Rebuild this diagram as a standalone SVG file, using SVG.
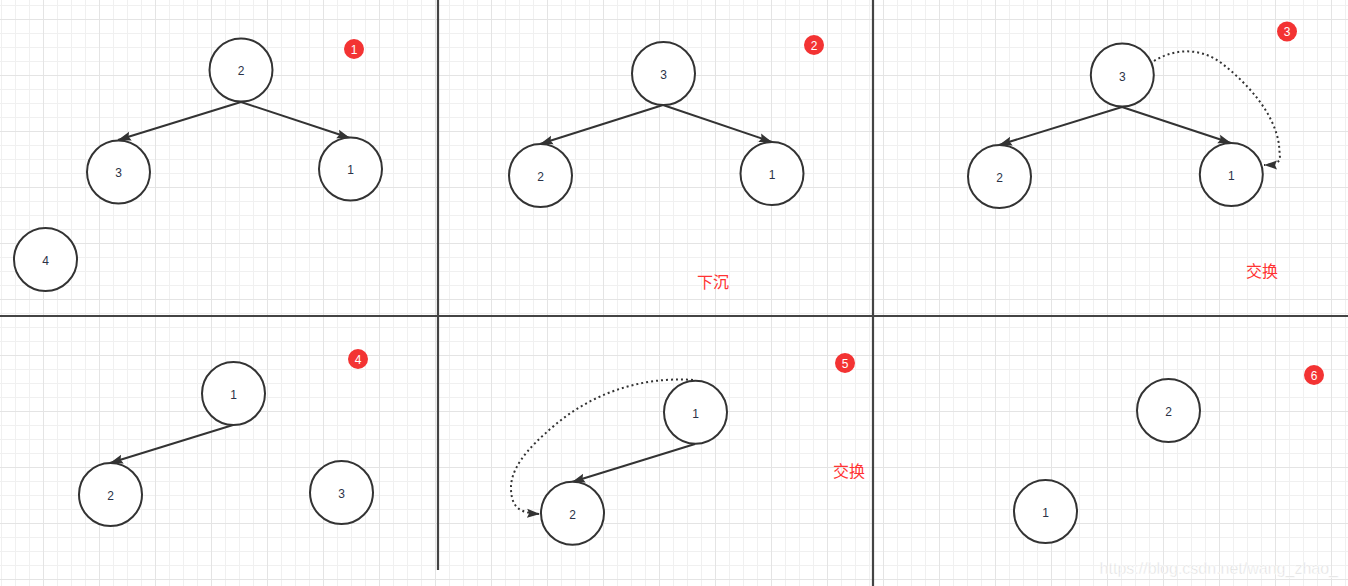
<svg xmlns="http://www.w3.org/2000/svg" width="1348" height="586" viewBox="0 0 1348 586">
<style>
.node circle{fill:#ffffff;stroke:#333333;stroke-width:2}
.node text{font-family:"Liberation Sans",Arial,sans-serif;font-size:12px;fill:#2a3247;text-anchor:middle;dominant-baseline:central}
.badge circle{fill:#f33333}
.badge text{font-family:"Liberation Sans",Arial,sans-serif;font-size:12px;fill:#ffffff;text-anchor:middle;dominant-baseline:central}
.edge{fill:none;stroke:#333333;stroke-width:2}
.dot{fill:none;stroke:#333333;stroke-width:2;stroke-dasharray:2 3}
.note{font-family:"Liberation Sans","Noto Sans CJK SC",sans-serif;font-size:16px;fill:#ff3333;text-anchor:middle;dominant-baseline:central}
.div{stroke:#444444;stroke-width:2.2}
</style>
<defs>
<pattern id="grid" x="1" y="5" width="56" height="56" patternUnits="userSpaceOnUse">
<path d="M0.5 0V56M14.5 0V56M28.5 0V56M0 0.5H56M28.5 0H56M0 28.5H56M0 42.5H56" stroke="#f0f0f0" stroke-width="1" fill="none"/>
<path d="M42.5 0V56M0 14.5H56" stroke="#e4e4e4" stroke-width="1" fill="none"/>
</pattern>
<marker id="arr" markerUnits="userSpaceOnUse" markerWidth="16" markerHeight="12" refX="13" refY="5" orient="auto">
<path d="M0 0.5L13 5L0 9.5L2 5Z" fill="#333333"/>
</marker>
</defs>
<rect width="1348" height="586" fill="#ffffff"/>
<rect width="1348" height="586" fill="url(#grid)"/>
<g id="dividers">
<line class="div" x1="438" y1="0" x2="438" y2="570"/>
<line class="div" x1="873" y1="0" x2="873" y2="586"/>
<line class="div" x1="0" y1="316" x2="1348" y2="316"/>
</g>
<g id="connectors">
<path class="edge" d="M241 102L118 140" marker-end="url(#arr)"/>
<path class="edge" d="M241 102L350 138" marker-end="url(#arr)"/>
<path class="edge" d="M663 105L540 144" marker-end="url(#arr)"/>
<path class="edge" d="M663 105L772 142" marker-end="url(#arr)"/>
<path class="edge" d="M1122 107L999 145" marker-end="url(#arr)"/>
<path class="edge" d="M1122 107L1231 143" marker-end="url(#arr)"/>
<path class="dot" d="M1154 61C1175 48 1200 48 1220 62C1250 85 1275 115 1279 145L1280 158Q1279 165 1264 165" marker-end="url(#arr)"/>
<path class="edge" d="M233 425L110 463" marker-end="url(#arr)"/>
<path class="edge" d="M695 444L572 482" marker-end="url(#arr)"/>
<path class="dot" d="M693 380C640 376 590 395 555 425C525 450 510 470 511 490C512 508 520 513 540 514" marker-end="url(#arr)"/>
</g>
<g id="n1-2" class="node"><circle cx="241" cy="70" r="31.5"/><text x="241" y="71">2</text></g>
<g id="n1-3" class="node"><circle cx="118.5" cy="172" r="31.5"/><text x="118.5" y="173">3</text></g>
<g id="n1-1" class="node"><circle cx="350.5" cy="169" r="31.5"/><text x="350.5" y="170">1</text></g>
<g id="n1-4" class="node"><circle cx="45.5" cy="259.5" r="31.5"/><text x="45.5" y="261">4</text></g>
<g id="b1" class="badge"><circle cx="354" cy="49" r="10"/><text x="354" y="49.5">1</text></g>

<g id="n2-3" class="node"><circle cx="663.5" cy="73.5" r="31.5"/><text x="663.5" y="75">3</text></g>
<g id="n2-2" class="node"><circle cx="540.5" cy="175.5" r="31.5"/><text x="540.5" y="177">2</text></g>
<g id="n2-1" class="node"><circle cx="772" cy="173.5" r="31.5"/><text x="772" y="175">1</text></g>
<g id="b2" class="badge"><circle cx="814" cy="45" r="10"/><text x="814" y="45.5">2</text></g>
<text class="note" x="713" y="282">下沉</text>

<g id="n3-3" class="node"><circle cx="1122.3" cy="75" r="31.5"/><text x="1122.3" y="76.5">3</text></g>
<g id="n3-2" class="node"><circle cx="999.5" cy="176.5" r="31.5"/><text x="999.5" y="178">2</text></g>
<g id="n3-1" class="node"><circle cx="1231.3" cy="174.5" r="31.5"/><text x="1231.3" y="176">1</text></g>
<g id="b3" class="badge"><circle cx="1287" cy="31.5" r="10"/><text x="1287" y="32">3</text></g>
<text class="note" x="1262" y="271">交换</text>

<g id="n4-1" class="node"><circle cx="233.5" cy="393.5" r="31.5"/><text x="233.5" y="395">1</text></g>
<g id="n4-2" class="node"><circle cx="110.5" cy="494.5" r="31.5"/><text x="110.5" y="496">2</text></g>
<g id="n4-3" class="node"><circle cx="341.5" cy="492.5" r="31.5"/><text x="341.5" y="494">3</text></g>
<g id="b4" class="badge"><circle cx="358" cy="359" r="10"/><text x="358" y="359.5">4</text></g>

<g id="n5-1" class="node"><circle cx="695.5" cy="412.3" r="31.5"/><text x="695.5" y="413.5">1</text></g>
<g id="n5-2" class="node"><circle cx="572.5" cy="513.3" r="31.5"/><text x="572.5" y="514.5">2</text></g>
<g id="b5" class="badge"><circle cx="845" cy="363" r="10"/><text x="845" y="363.5">5</text></g>
<text class="note" x="849" y="471">交换</text>

<g id="n6-2" class="node"><circle cx="1168.5" cy="410.5" r="31.5"/><text x="1168.5" y="412">2</text></g>
<g id="n6-1" class="node"><circle cx="1045.5" cy="511.5" r="31.5"/><text x="1045.5" y="513">1</text></g>
<g id="b6" class="badge"><circle cx="1314" cy="375" r="10"/><text x="1314" y="375.5">6</text></g>

<text x="1338" y="568" font-family="'Liberation Sans',Arial,sans-serif" font-size="16" fill="#dddddd" stroke="#ffffff" stroke-width="0.5" text-anchor="end" dominant-baseline="central">https://blog.csdn.net/wang_zhao_</text>
</svg>
